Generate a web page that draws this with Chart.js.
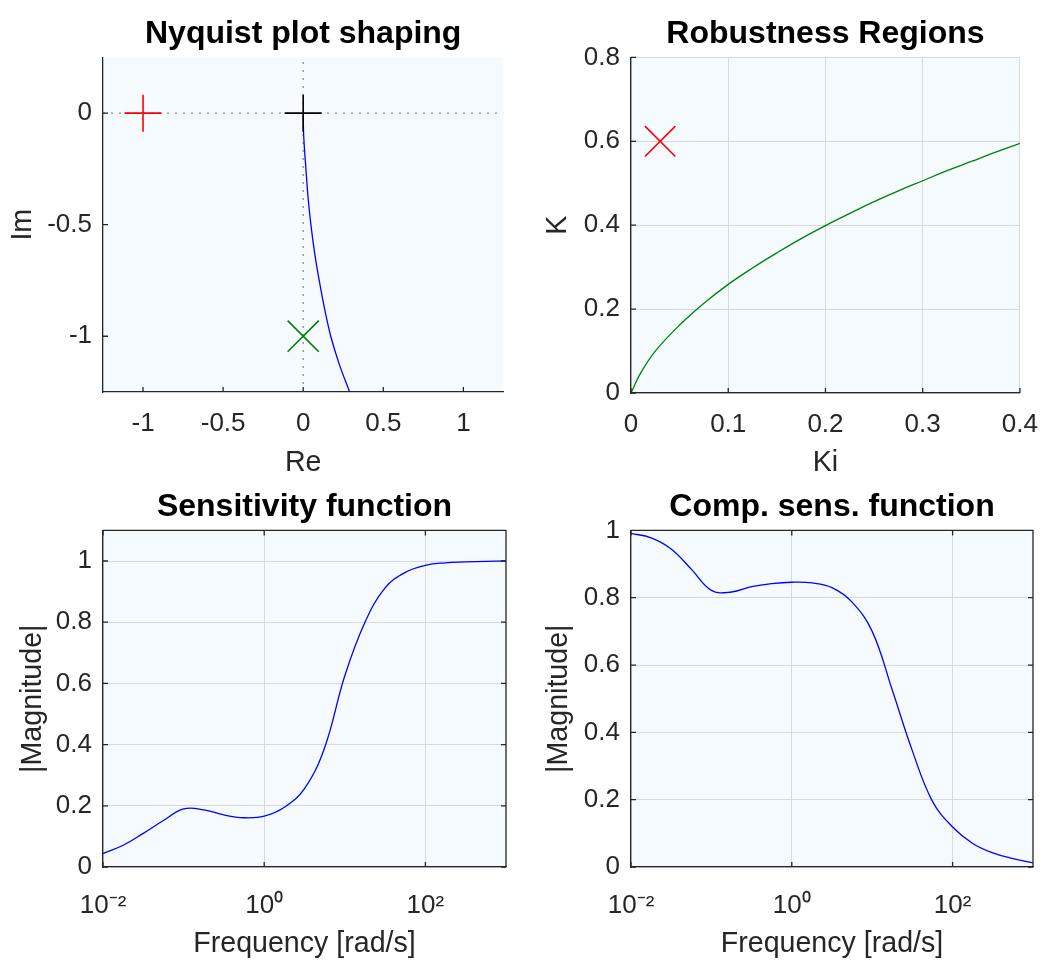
<!DOCTYPE html>
<html>
<head>
<meta charset="utf-8">
<title>Loop shaping</title>
<script src="https://cdn.jsdelivr.net/npm/chart.js@4.4.1/dist/chart.umd.min.js"></script>
<style>
  html, body { margin: 0; padding: 0; background: #fff; overflow: hidden; }
  .cell { position: absolute; }
  canvas { display: block; }
</style>
</head>
<body>
<div class="cell" style="left:0;top:0"><canvas id="nyq" width="527" height="480"></canvas></div>
<div class="cell" style="left:527px;top:0"><canvas id="rob" width="527" height="480"></canvas></div>
<div class="cell" style="left:0;top:480px"><canvas id="sens" width="527" height="481"></canvas></div>
<div class="cell" style="left:527px;top:480px"><canvas id="comp" width="527" height="481"></canvas></div>
<script>
// --- data ---
// Nyquist curve (real / imaginary part)
const nyqRe = [0, 0.003, 0.017, 0.03, 0.048, 0.071, 0.1, 0.133, 0.172, 0.225, 0.29];
const nyqIm = [0, -0.1, -0.25, -0.375, -0.5, -0.625, -0.75, -0.875, -1.0, -1.125, -1.25];
const critPoint = [-1, 0];      // red +
const originPoint = [0, 0];     // black +
const targetPoint = [0, -1];    // green x
const nyqXRange = [-1.25, 1.25];
const nyqYRange = [-1.25, 0.25];
const nyqXTicks = [-1, -0.5, 0, 0.5, 1];
const nyqYTicks = [-1, -0.5, 0];

// Robustness region boundary
const kiVals = [0, 0.01, 0.025, 0.05, 0.075, 0.1, 0.125, 0.15, 0.175, 0.2, 0.225, 0.25, 0.275, 0.3, 0.325, 0.35, 0.375, 0.4];
const kVals = [0, 0.048, 0.1, 0.162, 0.214, 0.259, 0.298, 0.334, 0.368, 0.399, 0.428, 0.456, 0.482, 0.506, 0.53, 0.552, 0.574, 0.595];
const designPoint = [0.03, 0.6]; // red x
const robXTicks = [0, 0.1, 0.2, 0.3, 0.4];
const robYTicks = [0, 0.2, 0.4, 0.6, 0.8];

// Frequency grid (rad/s), quarter decades
const freq = [0.01, 0.0178, 0.0316, 0.0562, 0.1, 0.178, 0.316, 0.562, 1, 1.78, 3.16, 5.62, 10, 17.8, 31.6, 56.2, 100, 178, 316, 562, 1000];
// Sensitivity function
const sensMag = [0.044, 0.071, 0.11, 0.152, 0.19, 0.187, 0.17, 0.161, 0.166, 0.195, 0.256, 0.39, 0.625, 0.8, 0.912, 0.963, 0.986, 0.994, 0.997, 0.999, 1.0];
// Complementary sensitivity function
const compMag = [0.991, 0.978, 0.945, 0.885, 0.822, 0.817, 0.833, 0.842, 0.846, 0.844, 0.83, 0.787, 0.7, 0.525, 0.345, 0.195, 0.119, 0.07, 0.042, 0.025, 0.012];
const freqTicks = [0.01, 1, 100];
const freqTickLabels = ['10\u207B\u00B2', '10\u2070', '10\u00B2'];
const magTicks = [0, 0.2, 0.4, 0.6, 0.8, 1];

// --- styles ---
const FONT = "'Liberation Sans', Arial, Helvetica, sans-serif";
const axisColor = '#262626';
const gridColor = 'rgb(214,218,222)';
const tickFont = { family: FONT, size: 26 };
const labelFont = { family: FONT, size: 28.6 };
const titleFont = { family: FONT, size: 32, weight: 'bold' };

// background, inward tick marks and optional box
const frame = {
  id: 'frame',
  defaults: { bg: 'rgb(245,250,254)', box: false },
  beforeDraw(chart, args, opts) {
    const { ctx, chartArea: a } = chart;
    ctx.save();
    ctx.fillStyle = opts.bg;
    ctx.fillRect(a.left, a.top, a.right - a.left, a.bottom - a.top);
    ctx.restore();
  },
  afterDraw(chart, args, opts) {
    const { ctx, chartArea: a, scales: { x, y } } = chart;
    const L = 5;
    ctx.save();
    ctx.strokeStyle = axisColor;
    ctx.lineWidth = 1.3;
    ctx.beginPath();
    x.ticks.forEach(t => {
      const px = x.getPixelForValue(t.value);
      ctx.moveTo(px, a.bottom); ctx.lineTo(px, a.bottom - L);
      if (opts.box) { ctx.moveTo(px, a.top); ctx.lineTo(px, a.top + L); }
    });
    y.ticks.forEach(t => {
      const py = y.getPixelForValue(t.value);
      ctx.moveTo(a.left, py); ctx.lineTo(a.left + L, py);
      if (opts.box) { ctx.moveTo(a.right, py); ctx.lineTo(a.right - L, py); }
    });
    if (opts.box) {
      ctx.moveTo(a.left, a.top); ctx.lineTo(a.right, a.top); ctx.lineTo(a.right, a.bottom);
    }
    ctx.stroke();
    ctx.restore();
  }
};
Chart.register(frame);

function xy(xs, ys) { return xs.map((v, i) => ({ x: v, y: ys[i] })); }

function axis(o) {
  return {
    type: o.type || 'linear',
    min: o.min, max: o.max,
    afterBuildTicks: s => { s.ticks = o.ticks.map(v => ({ value: v })); },
    afterFit: s => { if (o.height) s.height = o.height; if (o.width) s.width = o.width; },
    grid: { display: !!o.grid, color: gridColor, lineWidth: 1, drawTicks: false },
    border: { display: true, color: axisColor, width: 1.3 },
    ticks: {
      color: axisColor, font: tickFont, padding: o.pad, maxRotation: 0, autoSkip: false,
      callback: o.labels ? (v, i) => o.labels[i] : v => String(v)
    },
    title: { display: true, text: o.title, color: axisColor, font: labelFont, padding: o.titlePad }
  };
}

function makeChart(id, o) {
  return new Chart(document.getElementById(id), {
    type: 'scatter',
    data: { datasets: o.datasets },
    options: {
      responsive: false,
      animation: false,
      devicePixelRatio: 1,
      events: [],
      layout: { padding: { top: 0, left: 0, bottom: 0, right: 21 } },
      plugins: {
        legend: { display: false },
        tooltip: { enabled: false },
        title: { display: true, fullSize: false, text: o.title, color: '#000', font: titleFont, padding: o.titlePad },
        frame: { box: !!o.box }
      },
      scales: { x: o.x, y: o.y }
    }
  });
}

function curve(data, color) {
  return { data, showLine: true, borderColor: color, borderWidth: 1.3, pointRadius: 0, tension: 0.4 };
}
function marker(p, style, r, color) {
  return { data: [{ x: p[0], y: p[1] }], showLine: false, pointStyle: style, pointRadius: r,
    pointBorderColor: color, pointBackgroundColor: color, pointBorderWidth: 1.6 };
}
function dotted(data) {
  return { data, showLine: true, borderColor: '#8a8a8a', borderWidth: 1.3, borderDash: [2, 6], pointRadius: 0 };
}

makeChart('nyq', {
  title: 'Nyquist plot shaping',
  titlePad: { top: 15, bottom: 4 },
  datasets: [
    marker(originPoint, 'cross', 18.5, '#000000'),
    marker(critPoint, 'cross', 18.5, '#FF0000'),
    marker(targetPoint, 'crossRot', 22, '#008000'),
    curve(xy(nyqRe, nyqIm), '#0000FF'),
    dotted([{ x: 0, y: nyqYRange[0] }, { x: 0, y: nyqYRange[1] }]),
    dotted([{ x: nyqXRange[0], y: 0 }, { x: nyqXRange[1], y: 0 }])
  ],
  x: axis({ min: nyqXRange[0], max: nyqXRange[1], ticks: nyqXTicks, height: 88, pad: 16, title: 'Re', titlePad: { top: 0, bottom: 0 } }),
  y: axis({ min: nyqYRange[0], max: nyqYRange[1], ticks: nyqYTicks, width: 103, pad: 11, title: 'Im', titlePad: { top: 6, bottom: 0 } })
});

makeChart('rob', {
  title: 'Robustness Regions',
  titlePad: { top: 15, bottom: 4 },
  datasets: [
    marker(designPoint, 'crossRot', 21.5, '#FF0000'),
    curve(xy(kiVals, kVals), '#008000')
  ],
  x: axis({ min: 0, max: 0.4, ticks: robXTicks, grid: true, height: 87, pad: 16, title: 'Ki', titlePad: { top: 0, bottom: 0 } }),
  y: axis({ min: 0, max: 0.8, ticks: robYTicks, grid: true, width: 104, pad: 11, title: 'K', titlePad: { top: 14, bottom: 0 } })
});

makeChart('sens', {
  title: 'Sensitivity function',
  titlePad: { top: 8, bottom: 4 },
  box: true,
  datasets: [curve(xy(freq, sensMag), '#0000FF')],
  x: axis({ type: 'logarithmic', min: 0.01, max: 1000, ticks: freqTicks, labels: freqTickLabels, grid: true, height: 94, pad: 23, title: 'Frequency [rad/s]', titlePad: { top: 0, bottom: 0 } }),
  y: axis({ min: 0, max: 1.1, ticks: magTicks, grid: true, width: 103, pad: 11, title: '|Magnitude|', titlePad: { top: 16, bottom: 0 } })
});

makeChart('comp', {
  title: 'Comp. sens. function',
  titlePad: { top: 8, bottom: 4 },
  box: true,
  datasets: [curve(xy(freq, compMag), '#0000FF')],
  x: axis({ type: 'logarithmic', min: 0.01, max: 1000, ticks: freqTicks, labels: freqTickLabels, grid: true, height: 94, pad: 23, title: 'Frequency [rad/s]', titlePad: { top: 0, bottom: 0 } }),
  y: axis({ min: 0, max: 1, ticks: magTicks, grid: true, width: 104, pad: 11, title: '|Magnitude|', titlePad: { top: 15, bottom: 0 } })
});
</script>
</body>
</html>
